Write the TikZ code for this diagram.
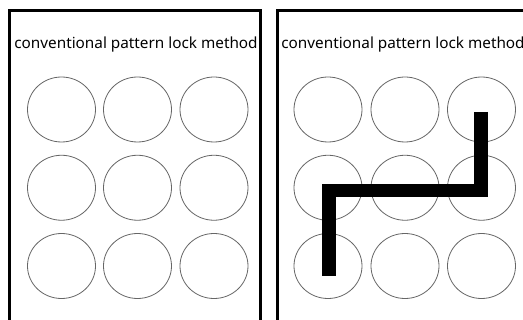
\documentclass[tikz,border=0pt]{standalone}
\usepackage{fontspec}
\setmainfont{Noto Sans}
\usetikzlibrary{shapes.geometric}
\begin{document}
\begin{tikzpicture}[x=1pt,y=-1pt,
  frame/.style={line width=3pt},
  dot/.style={draw=black!60, line width=0.8pt, ellipse, minimum width=68pt, minimum height=65pt, inner sep=0pt},
  ttl/.style={font=\fontsize{15.3}{17}\selectfont, inner sep=0pt},
  stroke/.style={line width=13.5pt, line cap=butt, line join=miter}]
\useasboundingbox (0,0) rectangle (523,320);
\fill[white] (0,0) rectangle (523,320);
% frames
\coordinate (lb) at (9.5,322);
\coordinate (lt) at (9.5,10.5);
\coordinate (rt) at (260.5,10.5);
\coordinate (rb) at (260.5,322);
\draw[frame] (lb) -- (lt) -- (rt) -- (rb);
\coordinate (Lb) at (277.5,322);
\coordinate (Lt) at (277.5,10.5);
\coordinate (Rt) at (525,10.5);
\draw[frame] (Lb) -- (Lt) -- (Rt);
% titles
\node[ttl] (t1) at (136,44.5) {conventional pattern lock method};
\node[ttl] (t2) at (403,44.5) {conventional pattern lock method};
% grids
\foreach \r/\y in {1/109.5,2/187.75,3/266}{
  \foreach \c/\x in {1/61.5,2/137.5,3/214}{
    \node[dot] (a\r\c) at (\x,\y) {};
  }
  \foreach \c/\x in {1/328,2/405,3/481.5}{
    \node[dot] (b\r\c) at (\x,\y) {};
  }
}
% pattern stroke
\coordinate (p1) at (481,112);
\coordinate (p2) at (481,190.5);
\coordinate (p3) at (329,190.5);
\coordinate (p4) at (329,276);
\draw[stroke] (p1) -- (p2) -- (p3) -- (p4);
\end{tikzpicture}
\end{document}
